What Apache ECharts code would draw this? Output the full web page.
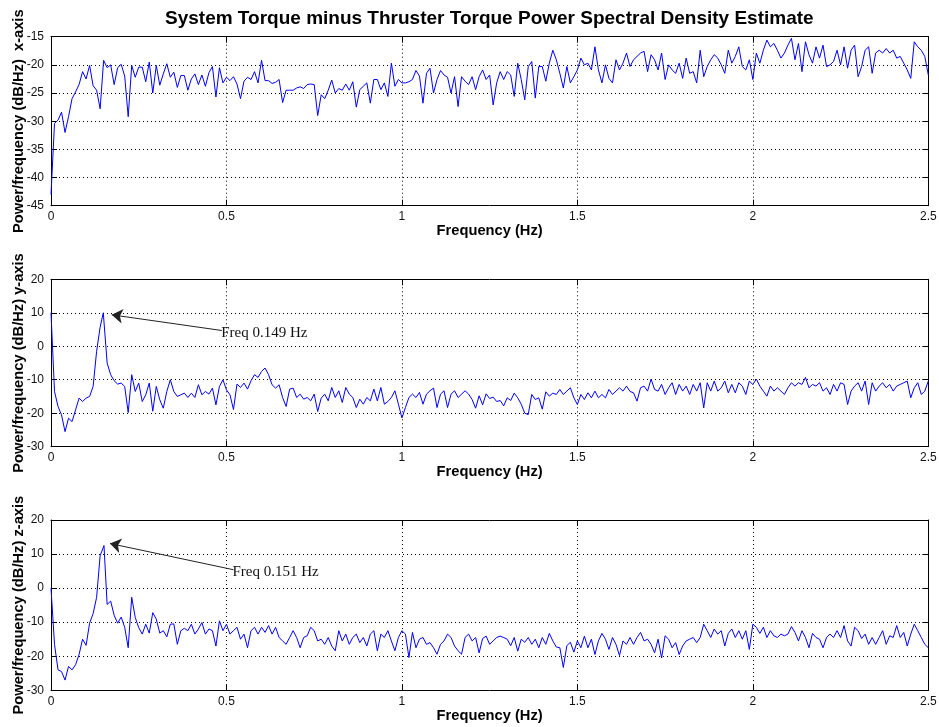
<!DOCTYPE html>
<html>
<head>
<meta charset="utf-8">
<script src="https://cdn.jsdelivr.net/npm/echarts@6/dist/echarts.min.js"></script>
<style>
  html, body { margin: 0; padding: 0; background: #fff; }
  #chart { width: 939px; height: 727px; }
</style>
</head>
<body>
<div id="chart"></div>
<script>
// Welch PSD estimates, one bin every 0.01 Hz from 0 to 2.5 Hz (dB/Hz)
const FREQ_STEP = 0.01;
const freqTicks = [0, 0.5, 1, 1.5, 2, 2.5];
const dbTicksX = [-45, -40, -35, -30, -25, -20, -15];
const dbTicksYZ = [-30, -20, -10, 0, 10, 20];

const psdX = [
  -43, -30.4, -29.8, -28.4, -32, -29.2, -26, -24.8, -23.5, -21.2,
  -22.5, -20.1, -23.7, -24.5, -27.8, -19.2, -20.5, -20, -23.5, -20.5,
  -19.9, -22, -29.2, -20.1, -22.2, -20.4, -20.4, -23, -19.5, -25,
  -20.1, -23.6, -21.6, -19.8, -22.2, -21.3, -24, -21.9, -21.9, -24.5,
  -22.5, -21.6, -23.5, -21.8, -23.8, -21.4, -20.3, -25.7, -20.5, -23.2,
  -22.2, -22.8, -22.1, -23.4, -26, -22.9, -22.2, -22.6, -21.2, -23.2,
  -19.2, -22.8, -22.8, -23.3, -23.1, -22.6, -26.7, -24.5, -24.5, -24.5,
  -24.1, -23.9, -24.2, -23.5, -23.4, -23.5, -29, -25.3, -26, -24.5,
  -22.7, -25, -24.2, -24.5, -23.4, -24.5, -23, -27.5, -24.4, -23.8,
  -23.2, -26.8, -22.6, -22.6, -24.4, -23.2, -25.6, -19.7, -23.8, -22.6,
  -23.2, -23.2, -23, -22.6, -21, -22, -26.8, -21.5, -20.6, -25,
  -22.6, -21, -21.8, -22.2, -25, -22.1, -27.4, -22.1, -22.9, -23.5,
  -22.1, -24.4, -22.1, -20.9, -22.6, -21.8, -27.1, -23.2, -21.2, -22.6,
  -21.2, -21.8, -25.6, -19.7, -22.6, -26.2, -20.3, -19.4, -25.9, -20.3,
  -20.3, -22.9, -19.7, -17.4, -19.1, -21.5, -24.1, -20.3, -23.2, -22.1,
  -20.9, -18.8, -20, -19.7, -20.9, -16.8, -20.9, -23.2, -20, -22.4,
  -23.2, -19.1, -20.9, -19.7, -17.9, -20.3, -19.1, -18.5, -17.9, -17.6,
  -21.2, -18.2, -19.1, -20.9, -17.9, -22.6, -20, -20.9, -21.5, -19.7,
  -22.4, -18.8, -21.5, -21.2, -23.2, -17.4, -22.1, -20.3, -19.1, -18.2,
  -18.8, -20, -21.5, -17.4, -19.7, -18.5, -16.8, -20.3, -20.9, -19.1,
  -22.6, -17.9, -19.7, -17.4, -15.6, -16.8, -16.2, -17.4, -18.8, -17.9,
  -16.5, -15.3, -19.1, -16.2, -21.2, -15.9, -18.2, -19.7, -16.8, -18.8,
  -16.5, -20.3, -20, -19.4, -17.4, -20, -16.8, -20.6, -17.4, -16.5,
  -22.1, -20.3, -17.4, -16.8, -21.5, -17.9, -17.4, -17.9, -17.1, -17.9,
  -17.4, -18.8, -18.5, -19.7, -20.9, -22.4, -15.9, -16.8, -17.4, -18.5,
  -21.8
];

const psdY = [
  10, -13.5, -18, -20.5, -25.5, -21.5, -22.5, -19, -15.5, -16.5,
  -15.5, -15, -12, -1.5, 5.7, 10, -5, -8.5, -10.3, -11.3,
  -11, -12, -19.8, -8.5, -13.5, -11, -16.5, -14.5, -11, -19.4,
  -12, -16, -18.5, -13.5, -10, -13.5, -15, -14.5, -14, -15.3,
  -14, -15.3, -11.5, -14.5, -13.5, -14.3, -12.5, -17.5, -12, -10,
  -13, -14.5, -18.9, -11.3, -12.3, -11, -12.8, -10.3, -8.5, -9.3,
  -7.5, -6.5, -8.5, -11.5, -12.5, -11.5, -15.3, -18, -12.8, -12.5,
  -15.3, -14.3, -15.8, -15.3, -16.3, -14.3, -19.5, -15.5, -14.3, -16.3,
  -12.3, -15.3, -13.3, -16.8, -12.3, -14.3, -15.3, -18.3, -15.8, -17.3,
  -15.3, -16.3, -12.8, -16.3, -12.3, -17.3, -16.5, -15.3, -13.3, -17.3,
  -21.4, -18.3, -15.3, -14.3, -15.3, -13.8, -17.3, -14.3, -13.3, -12.5,
  -18.3, -14.3, -13.3, -18.3, -14.3, -13.3, -15.3, -14.3, -13.3, -14.3,
  -15.9, -18.5, -14.8, -17.5, -14.2, -15.6, -15.2, -16.5, -16.2, -17.8,
  -15.4, -16.2, -14, -15.4, -17.3, -20, -20.4, -14.4, -15.9, -15.4,
  -18.8, -13.6, -14.9, -14, -14.4, -12.9, -14.4, -13.4, -12.4, -15.4,
  -17.4, -14.4, -15.9, -13.9, -15.4, -13.4, -15.4, -14.4, -15.4, -12.9,
  -14.4, -13.4, -12.4, -13.4, -11.9, -13.5, -13.9, -16.4, -12.4, -11.9,
  -13.4, -9.8, -12.9, -13.4, -11.4, -14.4, -12.4, -10.9, -14.4, -11.4,
  -13.4, -11.9, -14.4, -11.4, -13.4, -10.9, -18.4, -10.9, -13.4, -10.4,
  -13.4, -12.4, -10.4, -13.9, -11.4, -13.9, -10.9, -11.9, -14.4, -10.4,
  -11.4, -9.8, -11.9, -13.4, -14.9, -11.9, -13.4, -12.4, -13.4, -14.4,
  -12.4, -10.9, -11.9, -10.9, -11.4, -9.3, -12.4, -11.4, -11.9, -10.9,
  -13.4, -12.4, -14.4, -11.4, -13.4, -10.9, -11.4, -17.4, -13.4, -11.9,
  -10.9, -13.4, -10.4, -17.4, -10.9, -13.4, -11.9, -10.9, -12.4, -11.4,
  -13.4, -11.9, -11.4, -10.9, -10.4, -15.4, -12.4, -10.9, -14.4, -13.4,
  -10.4
];

const psdZ = [
  0, -16.5, -24, -24.5, -27, -23, -24, -22.5, -19.5, -15,
  -16.8, -10.3, -7.5, -2.7, 9.5, 12.5, -4.8, -3.8, -8, -10.3,
  -8.5, -11.5, -17.5, -2.7, -8.6, -11.6, -13.5, -10.6, -13.2, -7.2,
  -9.1, -13.2, -12.5, -14.3, -10.6, -10.5, -16.5, -12.5, -11.8, -12.5,
  -10.6, -13.5, -12, -10.1, -13.5, -12, -12.5, -17, -9.6, -12.5,
  -10.6, -13.5, -12.5, -11.5, -15, -13.5, -17.5, -12.5, -11.5, -13.5,
  -11.5, -13, -11, -13.5, -11.5, -14.5, -15.5, -16.5, -14.5, -12.5,
  -14.5, -17.5, -14.5, -14, -11.5, -12.5, -15.5, -15, -16.5, -14.5,
  -17, -18.4, -12.5, -15.5, -13.5, -16.5, -14.5, -13.5, -16, -14.5,
  -17, -13.5, -12.5, -18.4, -13.5, -14.5, -12.5, -15.5, -18.4, -14.5,
  -12.5, -13.5, -20.4, -13, -17.5, -15, -14.5, -16.5, -16, -17.5,
  -19.4, -16.5, -15.5, -13.5, -14.5, -17, -18.4, -19.4, -14.5, -13.5,
  -15.5, -14.5, -19, -14.8, -14.1, -16.5, -15.5, -14.5, -14.1, -14.5,
  -15, -16.9, -14.5, -18.5, -15, -15.9, -14.5, -16.5, -15, -17.5,
  -14.5, -16.5, -13.3, -15.5, -17.3, -17.5, -23.3, -16.9, -15.9, -18.8,
  -15.5, -17.5, -14.1, -17.5, -15, -19.5, -15.5, -13.3, -15, -18,
  -14.5, -16.5, -19.8, -15.5, -16.5, -14.5, -16.5, -14.5, -13, -15.5,
  -15, -16.5, -19, -15, -20.5, -14, -15, -17.5, -16, -19.5,
  -17, -15.5, -15, -14.5, -16, -14.5, -10.6, -12.5, -14.5, -12,
  -13.5, -12.5, -17, -13.3, -12, -14.5, -12.5, -15, -12.5, -18,
  -10.6, -11.5, -13.3, -11.5, -14.5, -12.5, -14, -14.5, -13.5, -14,
  -13.5, -11.3, -13, -15.5, -12.5, -14.5, -17.5, -13.3, -14.5, -15,
  -17.5, -14.5, -13.5, -14.5, -12.5, -14.5, -11, -15.5, -17, -11.5,
  -12.5, -14.8, -13.5, -16.5, -14.5, -16.5, -14.5, -12.5, -16.5, -14,
  -14.5, -11, -14.5, -13, -17, -13.5, -10.6, -12.5, -14.5, -16.5,
  -17.5
];

// Located spectral peaks (bin index and refined frequency, Hz)
const peakY = { index: 15, freq: 0.149 };
const peakZ = { index: 15, freq: 0.151 };

// Annotation arrows: tail/text anchor in axis units, tip offset from the peak
const noteY = { tail: [0.487, 4.7], text: [0.485, 3.9], tipOffset: [0.024, -0.6] };
const noteZ = { tail: [0.52, 5.4], text: [0.517, 4.85], tipOffset: [0.017, 0.6] };

const FONT = '"Liberation Sans", Arial, Helvetica, sans-serif';
const SERIF = '"Liberation Serif", "Times New Roman", serif';

function toPoints(values, peak) {
  const pts = values.map((v, i) => [i * FREQ_STEP, v]);
  if (peak) pts[peak.index][0] = peak.freq;
  return pts;
}

const gridBoxes = [
  { top: 36.7, height: 169 },
  { top: 279.3, height: 167.4 },
  { top: 520, height: 170.3 }
];

const axisNames = [
  'Power/frequency (dB/Hz)  x-axis',
  'Power/frequency (dB/Hz) y-axis',
  'Power/frequency (dB/Hz) z-axis'
];
const yTickSets = [dbTicksX, dbTicksYZ, dbTicksYZ];

const lineAxis = { show: true, onZero: false, lineStyle: { color: '#000', width: 1 } };
const tickIn = { show: true, inside: true, length: 6, lineStyle: { color: '#000', width: 1 } };
const dotted = { show: true, lineStyle: { color: '#000', width: 1, type: [1, 3] } };
const labelStyle = { color: '#111', fontFamily: FONT, fontSize: 12 };
const nameStyle = { fontFamily: FONT, fontWeight: 'bold', fontSize: 14.7, color: '#000' };

const grid = [], xAxis = [], yAxis = [];
gridBoxes.forEach((g, i) => {
  grid.push({ left: 51, right: 10.7, top: g.top, height: g.height, outerBoundsMode: 'none', containLabel: false });
  const fMin = freqTicks[0], fMax = freqTicks[freqTicks.length - 1];
  const yt = yTickSets[i];
  const yMin = yt[0], yMax = yt[yt.length - 1], yInt = yt[1] - yt[0];
  xAxis.push({
    type: 'value', gridIndex: i, position: 'bottom', min: fMin, max: fMax,
    interval: freqTicks[1] - freqTicks[0],
    axisLine: lineAxis, axisTick: tickIn, splitLine: dotted,
    axisLabel: Object.assign({ margin: 5 }, labelStyle),
    name: 'Frequency (Hz)', nameLocation: 'middle', nameGap: 17,
    nameTextStyle: nameStyle
  });
  xAxis.push({
    type: 'value', gridIndex: i, position: 'top', min: fMin, max: fMax,
    interval: freqTicks[1] - freqTicks[0],
    axisLine: lineAxis, axisTick: tickIn, splitLine: { show: false }, axisLabel: { show: false }
  });
  yAxis.push({
    type: 'value', gridIndex: i, position: 'left', min: yMin, max: yMax, interval: yInt,
    axisLine: lineAxis, axisTick: tickIn, splitLine: dotted,
    axisLabel: Object.assign({ margin: 7 }, labelStyle),
    name: axisNames[i], nameLocation: 'middle', nameRotate: 90, nameGap: 24.5,
    nameMoveOverlap: false,
    nameTextStyle: nameStyle
  });
  yAxis.push({
    type: 'value', gridIndex: i, position: 'right', min: yMin, max: yMax, interval: yInt,
    axisLine: lineAxis, axisTick: tickIn, splitLine: { show: false }, axisLabel: { show: false }
  });
});

function annotate(values, peak, note) {
  const tip = [peak.freq + note.tipOffset[0], values[peak.index] + note.tipOffset[1]];
  return {
    markLine: {
      silent: true, animation: false,
      symbol: ['none', 'arrow'], symbolSize: 11,
      lineStyle: { color: '#222', width: 1, type: 'solid' },
      label: { show: false },
      emphasis: { disabled: true },
      data: [[{ coord: note.tail }, { coord: tip }]]
    },
    markPoint: {
      silent: true, animation: false,
      symbol: 'circle', symbolSize: 0,
      itemStyle: { color: 'transparent' },
      label: {
        show: true, position: 'right', distance: 0,
        formatter: 'Freq ' + peak.freq.toFixed(3) + ' Hz',
        fontFamily: SERIF, fontSize: 15, color: '#111'
      },
      data: [{ coord: note.text }]
    }
  };
}

function psdSeries(i, values, peak, note) {
  return Object.assign({
    type: 'line', xAxisIndex: 2 * i, yAxisIndex: 2 * i,
    data: toPoints(values, peak),
    showSymbol: false, symbol: 'none', clip: true,
    lineStyle: { color: '#0000ff', width: 1 },
    emphasis: { disabled: true },
    animation: false
  }, peak ? annotate(values, peak, note) : {});
}

const chart = echarts.init(document.getElementById('chart'), null, { renderer: 'canvas' });
chart.setOption({
  backgroundColor: '#fff',
  animation: false,
  title: {
    text: 'System Torque minus Thruster Torque Power Spectral Density Estimate',
    left: 165, top: 9, padding: 0, textAlign: 'left',
    textStyle: { fontFamily: FONT, fontWeight: 'bold', fontSize: 19, color: '#000' }
  },
  grid, xAxis, yAxis,
  series: [
    psdSeries(0, psdX, null, null),
    psdSeries(1, psdY, peakY, noteY),
    psdSeries(2, psdZ, peakZ, noteZ)
  ]
});
</script>
</body>
</html>
